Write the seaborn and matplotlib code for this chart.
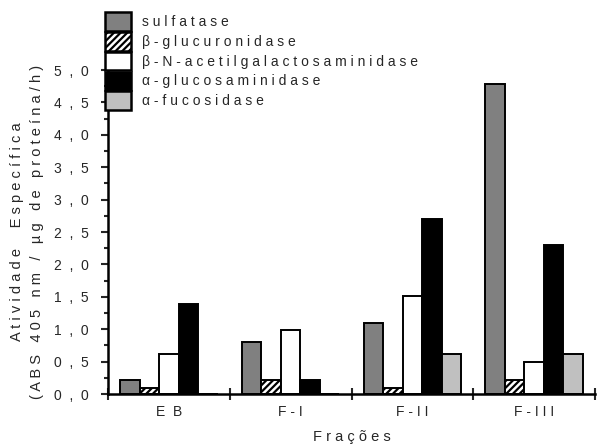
import numpy as np
import pandas as pd
import matplotlib
matplotlib.use("Agg")
import matplotlib.pyplot as plt
import seaborn as sns
from matplotlib.ticker import MultipleLocator, FuncFormatter

# fractions and enzyme activities
fracoes = ["EB", "F-I", "F-II", "F-III"]
enzimas = ["sulfatase", "β-glucuronidase", "β-N-acetilgalactosaminidase",
           "α-glucosaminidase", "α-fucosidase"]
sulfatase = [0.21, 0.80, 1.10, 4.78]
glucuronidase = [0.09, 0.21, 0.09, 0.21]
acetilgal = [0.62, 0.98, 1.51, 0.50]
glucosaminidase = [1.39, 0.21, 2.70, 2.30]
fucosidase = [0.0, 0.0, 0.62, 0.62]
cores = ["#808080", "#ffffff", "#ffffff", "#000000", "#c0c0c0"]


def espaco(s, sep=" "):
    # the original text is letter-spaced
    return sep.join(" " if c == " " else c for c in s)


sns.set_theme(style="white")
plt.rcParams["font.family"] = ["Liberation Sans", "DejaVu Sans"]
plt.rcParams["hatch.linewidth"] = 1.6

valores = [sulfatase, glucuronidase, acetilgal, glucosaminidase, fucosidase]
df = pd.DataFrame({
    "fracao": np.tile(fracoes, len(enzimas)),
    "enzima": np.repeat(enzimas, len(fracoes)),
    "atividade": np.concatenate(valores),
})

fig = plt.figure(figsize=(5.97, 4.48), dpi=100)
ax = fig.add_axes([108 / 597, 54 / 448, 487 / 597, 324 / 448])

sns.barplot(data=df, x="fracao", y="atividade", hue="enzima",
            hue_order=enzimas, order=fracoes, palette=cores,
            edgecolor="black", linewidth=1.4, width=0.8, ax=ax, legend=True)

for bar in ax.containers[1]:
    bar.set_hatch("/////")

ax.set_xlim(-0.5, 3.5)
ax.set_ylim(0, 5)
ax.yaxis.set_major_locator(MultipleLocator(0.5))
ax.yaxis.set_minor_locator(MultipleLocator(0.25))
ax.yaxis.set_major_formatter(
    FuncFormatter(lambda v, p: espaco(f"{v:.1f}".replace(".", ","), "  ")))
ax.set_xticks(range(len(fracoes)))
ax.set_xticklabels([espaco(f).replace("E B", "E  B") for f in fracoes])
ax.set_xticks(np.arange(-0.5, 4, 1), minor=True)

ax.tick_params(axis="y", which="major", direction="out", length=5, width=1.5,
               labelsize=10, pad=9, left=True)
ax.tick_params(axis="y", which="minor", direction="out", length=3, width=1.5, left=True)
ax.tick_params(axis="x", which="major", length=0, labelsize=10, pad=8)
ax.tick_params(axis="x", which="minor", direction="inout", length=8, width=1.5, bottom=True)

for s in ["top", "right"]:
    ax.spines[s].set_visible(False)
for s in ["left", "bottom"]:
    ax.spines[s].set_linewidth(1.8)
    ax.spines[s].set_color("black")

ax.set_xlabel(espaco("Frações"), fontsize=10.5, labelpad=8)
ax.set_ylabel(espaco("Atividade  Específica") + "\n" +
              espaco("(ABS 405 nm / µg de proteína/h)"),
              fontsize=10.5, labelpad=7, linespacing=1.55)

handles, labels = ax.get_legend_handles_labels()
ax.get_legend().remove()
leg = fig.legend(handles, [espaco(l) for l in enzimas], loc="upper left",
                 bbox_to_anchor=(105 / 597, 1 - 12 / 448), frameon=False,
                 fontsize=10, handlelength=1.9, handleheight=1.7,
                 labelspacing=0.08, handletextpad=0.8, borderpad=0,
                 borderaxespad=0)
leg.legend_handles[1].set_hatch("/////")
for h in leg.legend_handles:
    h.set_linewidth(1.8)

fig.savefig("out.png", dpi=100)
